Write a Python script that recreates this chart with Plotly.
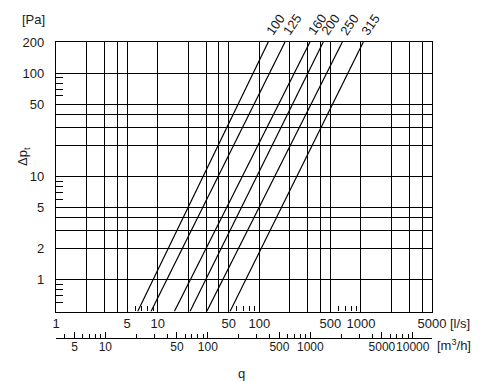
import numpy as np
import plotly.graph_objects as go

# ---- data ----
sizes = ["100", "125", "160", "200", "250", "315"]
dp_ends = [0.49, 200]                        # Pa, bottom and top of chart
q_at_bottom = [6.36, 8.6, 14.6, 20.8, 30.4, 51.5]   # l/s at dp = 0.49 Pa
q_at_top = [122.5, 179, 315, 426, 656, 1055]        # l/s at dp = 200 Pa

x_grid = [1, 2, 3, 4, 5, 10, 20, 30, 40, 50, 100, 200, 300, 400, 500,
          1000, 2000, 3000, 4000, 5000]
x_labels = {1: "1", 5: "5", 10: "10", 50: "50", 100: "100", 500: "500",
            1000: "1000", 5000: "5000"}
x_minor = [6, 7, 8, 9, 60, 70, 80, 90, 600, 700, 800, 900]

y_grid = [1, 2, 3, 4, 5, 10, 20, 30, 40, 50, 100, 200]
y_labels = {1: "1", 2: "2", 5: "5", 10: "10", 50: "50", 100: "100", 200: "200"}
y_minor = [0.6, 0.7, 0.8, 0.9, 6, 7, 8, 9, 60, 70, 80, 90]

m3h_major = [5, 10, 50, 100, 500, 1000, 5000, 10000]
m3h_minor = [4, 6, 7, 8, 9, 20, 30, 40, 60, 70, 80, 90, 200, 300, 400,
             600, 700, 800, 900, 2000, 3000, 4000, 6000, 7000, 8000, 9000]
m3h_range = [3.3, 15400]

FONT = "Liberation Sans, Arial, sans-serif"
TXT = "#1a1a1a"

fig = go.Figure()
for s, qb, qt in zip(sizes, q_at_bottom, q_at_top):
    fig.add_trace(go.Scatter(x=[qb, qt], y=dp_ends, mode="lines",
                             line=dict(color="black", width=1.2),
                             showlegend=False, hoverinfo="skip"))
    fig.add_annotation(x=np.log10(qt), y=np.log10(dp_ends[1]), xref="x", yref="y",
                       text=s, textangle=-55, showarrow=False,
                       xanchor="center", yanchor="middle",
                       xshift=7, yshift=18,
                       font=dict(family=FONT, size=13, color=TXT))

# dummy trace so the secondary (m3/h) axis exists
fig.add_trace(go.Scatter(x=[10], y=[1], xaxis="x2", yaxis="y", mode="markers",
                         marker=dict(opacity=0), showlegend=False, hoverinfo="skip"))

OFF = 8  # page body margin
W, H = 483 - OFF, 382 - OFF
ml, mr, mt, mb = 48, 51, 34, 44
dom0 = 0.0895

fig.update_layout(
    width=W, height=H,
    margin=dict(l=ml, r=mr, t=mt, b=mb, pad=0, autoexpand=False),
    paper_bgcolor="white", plot_bgcolor="white",
    font=dict(family=FONT, size=13, color=TXT),
    showlegend=False,
    xaxis=dict(type="log", range=[0, np.log10(5000)], anchor="y",
               automargin=False, tickangle=0,
               tickvals=x_grid, ticktext=[x_labels.get(v, "") for v in x_grid],
               showgrid=True, gridcolor="black", gridwidth=1.2,
               showline=True, linecolor="black", linewidth=1.3, mirror=True,
               ticks="", zeroline=False,
               minor=dict(tickvals=x_minor, ticks="inside", ticklen=5,
                          tickcolor="black", tickwidth=1, showgrid=False),
               tickfont=dict(family=FONT, size=13, color=TXT)),
    yaxis=dict(type="log", range=[np.log10(dp_ends[0]), np.log10(dp_ends[1])],
               domain=[dom0, 1], automargin=False, tickangle=0,
               tickvals=y_grid, ticktext=[y_labels.get(v, "") for v in y_grid],
               showgrid=True, gridcolor="black", gridwidth=1.2,
               showline=True, linecolor="black", linewidth=1.3, mirror=True,
               ticks="outside", ticklen=8, tickcolor="rgba(0,0,0,0)",
               zeroline=False,
               minor=dict(tickvals=y_minor, ticks="inside", ticklen=7,
                          tickcolor="black", tickwidth=1, showgrid=False),
               tickfont=dict(family=FONT, size=13, color=TXT)),
    xaxis2=dict(type="log", range=[np.log10(m3h_range[0]), np.log10(m3h_range[1])],
                overlaying="x", anchor="free", position=0, side="bottom",
                automargin=False, tickangle=0, ticklabelstandoff=-3,
                tickvals=m3h_major, ticktext=[str(v) for v in m3h_major],
                showgrid=False, showline=True, linecolor="black", linewidth=1.3,
                ticks="inside", ticklen=6, tickcolor="black", tickwidth=1,
                zeroline=False,
                minor=dict(tickvals=m3h_minor, ticks="inside", ticklen=3.5,
                           tickcolor="black", tickwidth=1, showgrid=False),
                tickfont=dict(family=FONT, size=12, color=TXT)),
)

pw = W - ml - mr
ph = H - mt - mb
def px(x):
    return (x - OFF - ml) / pw
def py(y):
    return (H - mb - (y - OFF)) / ph

def label(xp, yp, text, angle=0):
    fig.add_annotation(x=px(xp), y=py(yp), xref="paper", yref="paper", text=text,
                       textangle=angle, xanchor="center", yanchor="middle",
                       showarrow=False, font=dict(family=FONT, size=13, color=TXT))

label(33, 20, "[Pa]")
label(23, 157, "Δp<sub>t</sub>", -90)
label(460, 323, "[l/s]")
label(454, 345, "[m<sup>3</sup>/h]")
label(241, 373, "q")

fig.write_html("out.html")
